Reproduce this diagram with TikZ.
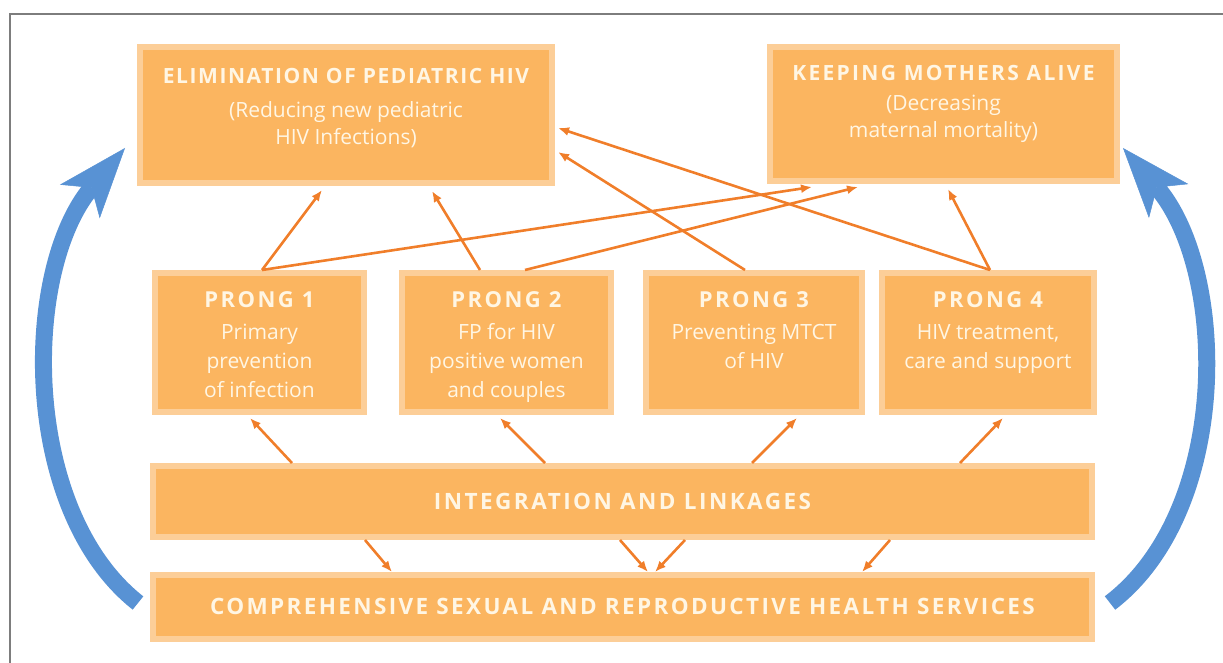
\documentclass[tikz,border=0pt]{standalone}
\usepackage{fontspec}
\setmainfont{Open Sans}
\usetikzlibrary{positioning,arrows.meta}

\definecolor{boxfill}{RGB}{251,181,96}
\definecolor{boxedge}{RGB}{252,206,152}
\definecolor{boxink}{RGB}{255,246,228}
\definecolor{linkorange}{RGB}{240,126,42}
\definecolor{cycleblue}{RGB}{88,146,212}
\definecolor{framegray}{RGB}{125,125,125}

% bold spaced capitals for the box titles: [size/spacing]{text}
\newcommand{\head}[2][21/8]{{\bfseries\headsize#1\relax#2}}
\def\headsize#1/#2\relax{\fontsize{#1}{28}\selectfont\addfontfeature{LetterSpace=#2}}

\begin{document}
\begin{tikzpicture}[x=1pt,y=-1pt]
\tikzset{box/.style={draw=boxedge,line width=6pt,fill=boxfill,inner sep=0pt}}
\tikzset{boxtext/.style={text=boxink,align=center,inner sep=0pt,font=\fontsize{21}{29}\selectfont}}
\tikzset{link/.style={draw=linkorange,line width=2.6pt,-{Latex[length=11pt,width=9pt]}}}
\tikzset{cyclearrow/.style={draw=cycleblue,line width=17pt,-{Stealth[length=70pt,width=52pt,inset=18pt,line width=0.5pt]}}}
\useasboundingbox (0,0) rectangle (1223,663);
\draw[framegray,line width=1.5pt] (1223,14) -- (10,14) -- (10,663);

% goals
\node [box,minimum width=412pt,minimum height=136pt] (elim) at (346,115) {};
\node [box,minimum width=347pt,minimum height=134pt] (keep) at (943.5,114) {};
\node [boxtext,below=24pt of elim.north] (elim-t) {\head[21/7.5]{ELIMINATION OF PEDIATRIC HIV}\\[5pt](Reducing new pediatric\\[-2pt]HIV Infections)};
\node [boxtext,below=21pt of keep.north] (keep-t) {\head[21/11]{KEEPING MOTHERS ALIVE}\\[1pt](Decreasing\\[-2pt]maternal mortality)};

% prongs
\node [box,minimum width=209pt,minimum height=139pt] (p1) at (259.5,342.5) {};
\node [box,minimum width=209pt,minimum height=139pt] (p2) at (506.5,342.5) {};
\node [box,minimum width=216pt,minimum height=139pt] (p3) at (754,342.5) {};
\node [box,minimum width=212pt,minimum height=139pt] (p4) at (988,342.5) {};
\node [boxtext,below=21pt of p1.north] (p1-t) {\head[22/11]{PRONG 1}\\[3pt]Primary\\prevention\\of infection};
\node [boxtext,below=21pt of p2.north] (p2-t) {\head[22/11]{PRONG 2}\\[3pt]FP for HIV\\positive women\\and couples};
\node [boxtext,below=21pt of p3.north] (p3-t) {\head[22/11]{PRONG 3}\\[3pt]Preventing MTCT\\of HIV};
\node [boxtext,below=21pt of p4.north] (p4-t) {\head[22/11]{PRONG 4}\\[3pt]HIV treatment,\\care and support};

% base
\node [box,boxtext,minimum width=939pt,minimum height=71pt] (integ) at (622.5,501.5) {\raisebox{-2pt}{\head[22.5/11]{INTEGRATION AND LINKAGES}}};
\node [box,boxtext,minimum width=939pt,minimum height=64pt] (srh) at (622.5,607) {\raisebox{2pt}{\head[22.5/10.5]{COMPREHENSIVE SEXUAL AND REPRODUCTIVE HEALTH SERVICES}}};

% prongs up to the goals
\draw[link] ([xshift=110pt]p1.north west) -- ([xshift=185pt,yshift=-4pt]elim.south west);
\draw[link] ([xshift=110pt]p1.north west) -- ([xshift=45pt,yshift=-3pt]keep.south west);
\draw[link] ([xshift=81pt]p2.north west) -- ([xshift=295pt,yshift=-5pt]elim.south west);
\draw[link] ([xshift=126pt]p2.north west) -- ([xshift=91pt,yshift=-3pt]keep.south west);
\draw[link] ([xshift=102pt]p3.north west) -- ([xshift=3pt,yshift=34pt]elim.south east);
\draw[link] ([xshift=111pt]p4.north west) -- ([xshift=3pt,yshift=58pt]elim.south east);
\draw[link] ([xshift=111pt]p4.north west) -- ([xshift=181pt,yshift=-5pt]keep.south west);

% integration up to the prongs
\foreach \from/\to/\p in {142/98/p1,395/101/p2,602/154/p3,810/124/p4}
  \draw[link] ([xshift=\from pt]integ.north west) -- ([xshift=\to pt,yshift=-3pt]\p.south west);

% integration down to the services
\foreach \from/\to in {215/242,470/498,535/505,740/712}
  \draw[link] ([xshift=\from pt]integ.south west) -- ([xshift=\to pt]srh.north west);

% the two cycle arrows
\draw[cyclearrow] ([xshift=-12pt,yshift=4pt]srh.west) .. controls (20,510) and (22,270) .. ([xshift=-12pt,yshift=-33pt]elim.west);
\draw[cyclearrow] ([xshift=15pt,yshift=4pt]srh.east) .. controls (1232,510) and (1228,270) .. ([xshift=3pt,yshift=-34pt]keep.east);

\end{tikzpicture}
\end{document}
